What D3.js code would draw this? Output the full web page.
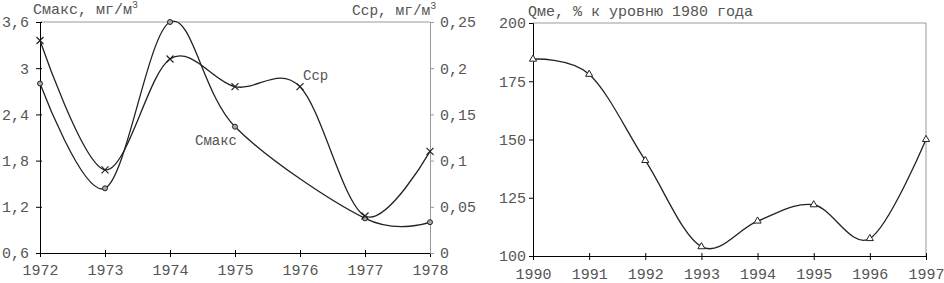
<!DOCTYPE html>
<html>
<head>
<meta charset="utf-8">
<script src="https://cdn.jsdelivr.net/npm/d3@7"></script>
<style>
  body { margin: 0; background: #fff; }
  text { font-family: "Liberation Mono", "DejaVu Sans Mono", monospace; fill: #555; }
</style>
</head>
<body>
<div id="chart-area"></div>
<script>
// left chart data
var yearsA = [1972, 1973, 1974, 1975, 1976, 1977, 1978];
var cmaxYears = [1972, 1973, 1974, 1975, 1977, 1978];
var cmaxValues = [2.8, 1.44, 3.6, 2.24, 1.05, 1.0];
var csrValues = [0.23, 0.09, 0.21, 0.18, 0.18, 0.04, 0.11];
var leftTicks = [0.6, 1.2, 1.8, 2.4, 3, 3.6];
var rightTicks = [0, 0.05, 0.1, 0.15, 0.2, 0.25];

// right chart data
var yearsB = [1990, 1991, 1992, 1993, 1994, 1995, 1996, 1997];
var qmeValues = [184.5, 178, 141, 104, 115, 122, 107.5, 150];
var qTicks = [100, 125, 150, 175, 200];

var width = 944;
var height = 283;
var fmt = d => String(d).replace(".", ",");

var svg = d3.select("#chart-area")
    .append("svg")
    .attr("width", width)
    .attr("height", height);

var curve = d3.curveCardinal.tension(0);

// ---------- left chart ----------
var g1 = svg.append("g");
var x1 = d3.scaleLinear().domain([1972, 1978]).range([40, 430]);
var yL = d3.scaleLinear().domain([0.6, 3.6]).range([253, 22]);
var yR = d3.scaleLinear().domain([0, 0.25]).range([253, 22]);

// frame top
g1.append("line").attr("x1", 40).attr("x2", 430).attr("y1", 22).attr("y2", 22)
    .attr("stroke", "#999");

var ax1 = g1.append("g")
    .attr("transform", "translate(0,253)")
    .call(d3.axisBottom(x1).tickValues(yearsA).tickFormat(d3.format("d")).tickSize(4).tickPadding(7));
ax1.selectAll(".tick line").attr("y1", -3);

var ayL = g1.append("g")
    .attr("transform", "translate(40,0)")
    .call(d3.axisLeft(yL).tickValues(leftTicks).tickFormat(fmt).tickSize(4).tickPadding(7));
ayL.selectAll(".tick line").attr("x1", 2);

var ayR = g1.append("g")
    .attr("transform", "translate(430,0)")
    .call(d3.axisRight(yR).tickValues(rightTicks).tickFormat(fmt).tickSize(4).tickPadding(6));
ayR.select(".domain").attr("stroke", "#999");
ayR.selectAll(".tick line").attr("stroke", "#999");

// lines
g1.append("path")
    .datum(cmaxYears.map((d, i) => [d, cmaxValues[i]]))
    .attr("fill", "none").attr("stroke", "#222").attr("stroke-width", 1.3)
    .attr("d", d3.line().x(d => x1(d[0])).y(d => yL(d[1])).curve(curve));

g1.append("path")
    .datum(yearsA.map((d, i) => [d, csrValues[i]]))
    .attr("fill", "none").attr("stroke", "#222").attr("stroke-width", 1.3)
    .attr("d", d3.line().x(d => x1(d[0])).y(d => yR(d[1])).curve(curve));

// markers
g1.selectAll(".cmax")
    .data(cmaxYears.map((d, i) => [d, cmaxValues[i]]))
    .enter().append("circle")
    .attr("cx", d => x1(d[0])).attr("cy", d => yL(d[1]))
    .attr("r", 2.5).attr("fill", "#aaa").attr("stroke", "#222");

g1.selectAll(".csr")
    .data(yearsA.map((d, i) => [d, csrValues[i]]))
    .enter().append("path")
    .attr("transform", d => `translate(${x1(d[0])},${yR(d[1])})`)
    .attr("d", "M-3.5,-3.5L3.5,3.5M-3.5,3.5L3.5,-3.5")
    .attr("stroke", "#222").attr("stroke-width", 1.2);

// texts
g1.selectAll(".tick text").attr("font-size", "15px").attr("fill", "#555")
    .attr("font-family", "Liberation Mono");

var t1 = g1.append("text").attr("x", 33).attr("y", 14).attr("font-size", "15px");
t1.append("tspan").text("Смакс, мг/м");
t1.append("tspan").attr("dy", -6).attr("font-size", "10px").text("3");

var t2 = g1.append("text").attr("x", 352).attr("y", 15).attr("font-size", "14.5px");
t2.append("tspan").text("Сср, мг/м");
t2.append("tspan").attr("dy", -6).attr("font-size", "10px").text("3");

g1.append("text").attr("x", 303).attr("y", 80).attr("font-size", "14px").text("Сср");
g1.append("text").attr("x", 195).attr("y", 145).attr("font-size", "14px").text("Смакс");

// ---------- right chart ----------
var g2 = svg.append("g");
var x2 = d3.scaleLinear().domain([1990, 1997]).range([533, 926]);
var y2 = d3.scaleLinear().domain([100, 200]).range([256, 23]);

g2.append("line").attr("x1", 533).attr("x2", 926).attr("y1", 23).attr("y2", 23)
    .attr("stroke", "#999");
g2.append("line").attr("x1", 926).attr("x2", 926).attr("y1", 23).attr("y2", 256)
    .attr("stroke", "#999");

var bx2 = g2.append("g")
    .attr("transform", "translate(0,256)")
    .call(d3.axisBottom(x2).tickValues(yearsB).tickFormat(d3.format("d")).tickSize(4).tickPadding(8));
bx2.selectAll(".tick line").attr("y1", -3);

g2.append("g")
    .attr("transform", "translate(533,0)")
    .call(d3.axisLeft(y2).tickValues(qTicks).tickSize(4).tickPadding(3));

g2.selectAll(".tick text").attr("font-size", "15px").attr("fill", "#555")
    .attr("font-family", "Liberation Mono");

g2.append("path")
    .datum(yearsB.map((d, i) => [d, qmeValues[i]]))
    .attr("fill", "none").attr("stroke", "#222").attr("stroke-width", 1.3)
    .attr("d", d3.line().x(d => x2(d[0])).y(d => y2(d[1])).curve(curve));

g2.selectAll(".tri")
    .data(yearsB.map((d, i) => [d, qmeValues[i]]))
    .enter().append("path")
    .attr("transform", d => `translate(${x2(d[0])},${y2(d[1])})`)
    .attr("d", d3.symbol().type(d3.symbolTriangle).size(22))
    .attr("fill", "#fff").attr("stroke", "#222");

g2.append("text").attr("x", 528).attr("y", 16).attr("font-size", "15px")
    .text("Qме, % к уровню 1980 года");
</script>
</body>
</html>
